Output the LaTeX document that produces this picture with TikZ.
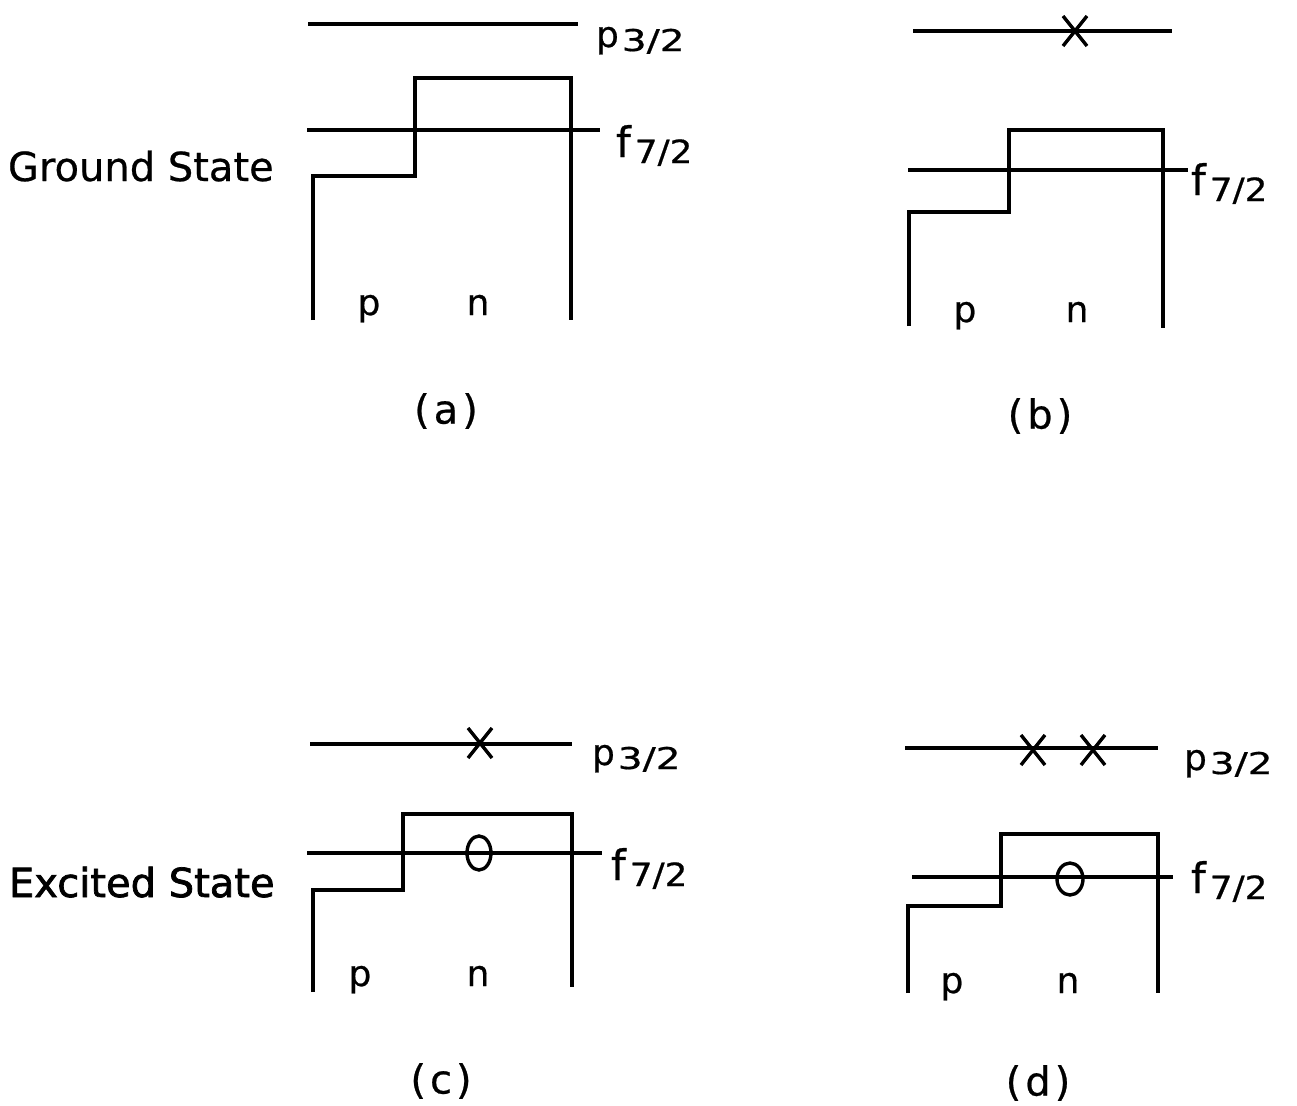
\documentclass[tikz,border=0pt]{standalone}
\usepackage{fontspec}
\setmainfont[FakeBold=0.6,AutoFakeBold=1.8]{DejaVu Sans}
\newfontfamily\heavyfont[FakeBold=1.8]{DejaVu Sans}
\newcommand\bigfont{\fontsize{20}{22}\selectfont}
\newcommand\lblfont{\fontsize{18}{20}\selectfont}
\newcommand\psubfont{\fontsize{15}{16}\selectfont}
\newcommand\fsubfont{\fontsize{16}{17}\selectfont}
\newcommand\plbl{{\fontsize{18}{20}\selectfont p}\hspace{1.5pt}\raisebox{-2pt}{\scalebox{1.3}[1]{\psubfont 3/2}}}
\newcommand\flbl{{\fontsize{21}{22}\selectfont f}\hspace{2pt}\raisebox{-3pt}{\scalebox{1.12}[1]{\fsubfont 7/2}}}
\begin{document}
\begin{tikzpicture}[x=0.5pt,y=-0.5pt,
  lvl/.style={line width=2pt},
  well/.style={line width=2pt, line join=miter},
  hole/.style={line width=1.7pt},
  txt/.style={inner sep=0pt, outer sep=0pt},
  xcross/.pic={\draw[line width=1.7pt] (-12,-15) -- (12,15) (-12,15) -- (12,-15);}]
\useasboundingbox (0,0) rectangle (1297,1105);

% ---------- (a) ----------
\draw[lvl] (308,24) -- (578,24);
\draw[lvl] (307,130) -- (600,130);
\draw[well] (313,320) -- (313,176) -- (415,176) -- (415,78) -- (571,78) -- (571,320);
\node[txt, anchor=base west] (a32) at (596,47) {\plbl};
\node[txt, anchor=base west] (a72) at (616,157) {\flbl};
\node[txt, anchor=base] (ap) at (369,315) {\lblfont p};
\node[txt, anchor=base] (an) at (478,315) {\lblfont n};
\node[txt] (alab) at (446,411) {\bigfont (\kern2pt a\kern2pt)};
\node[txt, anchor=base west] (gs) at (8,181) {\bigfont Ground State};

% ---------- (b) ----------
\draw[lvl] (913,31) -- (1172,31);
\pic at (1075,31) {xcross};
\draw[lvl] (908,170) -- (1188,170);
\draw[well] (909,326) -- (909,212) -- (1009,212) -- (1009,130) -- (1163,130) -- (1163,328);
\node[txt, anchor=base west] (b72) at (1191,195) {\flbl};
\node[txt, anchor=base] (bp) at (965,322) {\lblfont p};
\node[txt, anchor=base] (bn) at (1077,322) {\lblfont n};
\node[txt] (blab) at (1040,416) {\bigfont (\kern2pt b\kern2pt)};

% ---------- (c) ----------
\draw[lvl] (310,744) -- (572,744);
\pic at (480,743) {xcross};
\draw[lvl] (307,853) -- (602,853);
\draw[hole] (479,853) ellipse [x radius=6pt, y radius=8.5pt];
\draw[well] (313,992) -- (313,890) -- (403,890) -- (403,814) -- (572,814) -- (572,987);
\node[txt, anchor=base west] (c32) at (592,765) {\plbl};
\node[txt, anchor=base west] (c72) at (611,880) {\flbl};
\node[txt, anchor=base] (cp) at (360,986) {\lblfont p};
\node[txt, anchor=base] (cn) at (478,986) {\lblfont n};
\node[txt] (clab) at (441,1081) {\bigfont (\kern2pt c\kern2pt)};
\node[txt, anchor=base west] (es) at (9,897) {\bigfont\heavyfont Excited State};

% ---------- (d) ----------
\draw[lvl] (905,748) -- (1158,748);
\pic at (1033,750) {xcross};
\pic at (1093,750) {xcross};
\draw[lvl] (912,877) -- (1173,877);
\draw[hole] (1070,879) ellipse [x radius=6.5pt, y radius=8pt];
\draw[well] (908,993) -- (908,906) -- (1001,906) -- (1001,834) -- (1158,834) -- (1158,993);
\node[txt, anchor=base west] (d32) at (1184,770) {\plbl};
\node[txt, anchor=base west] (d72) at (1191,893) {\flbl};
\node[txt, anchor=base] (dp) at (952,993) {\lblfont p};
\node[txt, anchor=base] (dn) at (1068,993) {\lblfont n};
\node[txt] (dlab) at (1038,1083) {\bigfont (\kern2pt d\kern2pt)};
\end{tikzpicture}
\end{document}
